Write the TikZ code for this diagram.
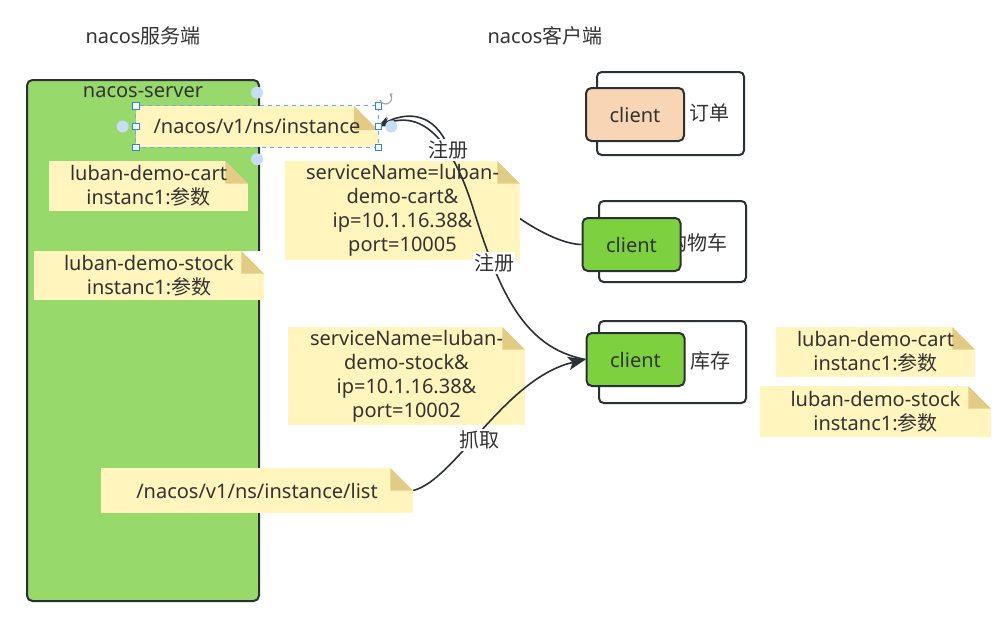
\documentclass[tikz,border=0pt]{standalone}
\usepackage{fontspec}
\setmainfont{Noto Sans}
\newfontfamily\cjk{Noto Sans CJK SC}
\usetikzlibrary{arrows.meta}

\definecolor{servergreen}{HTML}{97D96A}
\definecolor{clientgreen}{HTML}{7DD13F}
\definecolor{clientpeach}{HTML}{F8D5B5}
\definecolor{notefill}{HTML}{FFF5BD}
\definecolor{notefold}{HTML}{E2CC85}
\definecolor{edgec}{HTML}{2B3035}
\definecolor{txt}{HTML}{333333}
\definecolor{selblue}{HTML}{2A86E8}
\definecolor{handlec}{HTML}{C6DDF7}

\tikzset{
  every node/.style={font=\fontsize{15}{18}\selectfont, text=txt},
  fold/.store in=\foldsz, fold=17pt,
  notecorner/.store in=\notecornercol, notecorner=white,
  note/.style={rectangle, fill=notefill, inner sep=0pt, align=center,
    path picture={
      \fill[\notecornercol] ([xshift=-\foldsz]path picture bounding box.north east)
        -- (path picture bounding box.north east)
        -- ([yshift=-\foldsz]path picture bounding box.north east) -- cycle;
      \fill[notefold] ([xshift=-\foldsz]path picture bounding box.north east)
        -- ([xshift=-\foldsz,yshift=-\foldsz]path picture bounding box.north east)
        -- ([yshift=-\foldsz]path picture bounding box.north east) -- cycle;}},
  group/.style={draw=edgec, line width=1.5pt, rounded corners=3.5pt, fill=white,
    minimum width=110.25pt, minimum height=#1},
  client/.style={draw=edgec, line width=1.5pt, rounded corners=4pt,
    minimum width=73.5pt, minimum height=39.75pt},
  conn/.style={draw=edgec, line width=1.2pt},
  lbl/.style={fill=white, inner sep=1pt},
  handlesq/.style={draw=selblue, fill=white, line width=0.6pt, inner sep=0pt, minimum size=5pt},
  handleci/.style={circle, fill=handlec, inner sep=0pt, minimum size=9pt}
}

\begin{document}
\begin{tikzpicture}[x=0.75pt, y=-0.75pt]
    \useasboundingbox (0,0) rectangle (996,625);

    % タイトル
    \node (srvtitle) at (143,36) {nacos{\cjk 服务端}};
    \node (clititle) at (545,36) {nacos{\cjk 客户端}};

    % サーバー
    \node[draw=edgec, line width=1.5pt, rounded corners=4pt, fill=servergreen,
      minimum width=174pt, minimum height=390.75pt] (server) at (143,340.5) {};
    \node (srvname) at (143,92) {nacos-server};

    % サーバー内のメモ
    \node[note, fold=18pt, minimum width=181.5pt, minimum height=30.75pt]
      (inst) at (257,126.5) {/nacos/v1/ns/instance};
    \node[note, notecorner=servergreen, minimum width=149.25pt, minimum height=37.5pt] (cartinst) at (148.5,186)
      {luban-demo-cart\\instanc1:{\cjk 参数}};
    \node[note, minimum width=172.5pt, minimum height=36.75pt] (stockinst) at (149,275.5)
      {luban-demo-stock\\instanc1:{\cjk 参数}};

    % クライアント
    \node[group=62.25pt] (ordergrp) at (670.5,113.5) {};
    \node (orderlbl) at (709,113) {\cjk 订单};
    \node[client, fill=clientpeach] (ordercl) at (635,114.5) {client};

    \node[group=60.75pt] (cartgrp) at (672.5,241.5) {};
    \node (cartlbl) at (697,243) {\cjk 购物车};
    \node[client, fill=clientgreen] (cartcl) at (631.5,244.5) {client};

    \node[group=61.5pt] (stockgrp) at (672.5,362) {};
    \node (stocklbl) at (710,361) {\cjk 库存};
    \node[client, fill=clientgreen] (stockcl) at (635.5,359.5) {client};

    % 注册 (购物车)
    \draw[conn, -{Stealth[length=9pt,width=7pt]}] (cartcl.west) .. controls (545,244) and (470,190) .. (445,140)
      .. controls (430,112) and (405,112) .. (inst.east);

    % 登録パラメータ
    \node[note, minimum width=176.25pt, minimum height=74.25pt] (cartreg) at (402.5,210.5)
      {serviceName=luban-\\demo-cart\&\\ip=10.1.16.38\&\\port=10005};
    \node[note, minimum width=177.75pt, minimum height=73.5pt] (stockreg) at (406.5,376)
      {serviceName=luban-\\demo-stock\&\\ip=10.1.16.38\&\\port=10002};
    \node[note, minimum width=234pt, minimum height=33.75pt] (listnote) at (257,490.5)
      {/nacos/v1/ns/instance/list};

    % 注册 (库存)
    \draw[conn, -{Stealth[length=9pt,width=7pt]}] (stockcl.west) .. controls (525,348) and (500,295) .. (473,208)
      .. controls (450,135) and (420,110) .. (inst.east);

    % 抓取
    \draw[conn, -{Stealth[length=13pt,width=10pt,inset=3pt]}] (listnote.east) .. controls (455,480) and (505,378) .. (stockcl.west);

    \node[lbl] (reg1) at (448,150) {\cjk 注册};
    \node[lbl] (reg2) at (494,263) {\cjk 注册};
    \node[lbl] (fetch) at (479,440) {\cjk 抓取};

    % 右側のメモ
    \node[note, minimum width=149.25pt, minimum height=37.5pt] (rcart) at (875.5,352)
      {luban-demo-cart\\instanc1:{\cjk 参数}};
    \node[note, minimum width=173.25pt, minimum height=38.25pt] (rstock) at (875.5,411.5)
      {luban-demo-stock\\instanc1:{\cjk 参数}};

    % 選択枠
    \draw[selblue!70, dashed, line width=0.6pt] (inst.north west) rectangle (inst.south east);
    \foreach \a in {north west, north east, west, east, south west, south east}
      \node[handlesq] at (inst.\a) {};
    \node[handleci] (hn) at ([yshift=9.75pt]inst.north) {};
    \node[handleci] (hw) at ([xshift=-9.75pt]inst.west) {};
    \node[handleci] (he) at ([xshift=9.75pt]inst.east) {};
    \node[handleci] (hs) at ([yshift=-9pt]inst.south) {};
    \draw[gray!70, line width=0.9pt, -{Stealth[length=2.5pt,width=3pt]}] (380,100) arc[start angle=160, end angle=-50, radius=6];
\end{tikzpicture}
\end{document}
